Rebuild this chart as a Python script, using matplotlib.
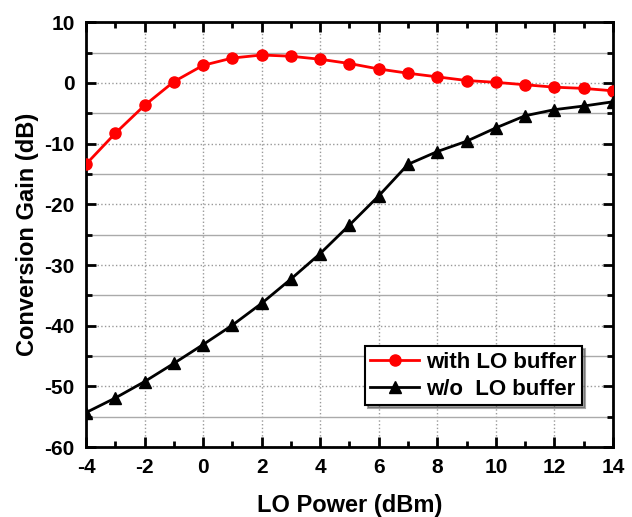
import numpy as np
import matplotlib
matplotlib.use('Agg')
from matplotlib import pyplot as plt
from matplotlib.ticker import MultipleLocator

# LO power sweep (dBm) and conversion gain (dB)
lo_power = [-4, -3, -2, -1, 0, 1, 2, 3, 4, 5, 6, 7, 8, 9, 10, 11, 12, 13, 14]
gain_buffer = [-13.4, -8.3, -3.7, 0.2, 2.9, 4.1, 4.6, 4.4, 3.9, 3.2, 2.3,
               1.6, 1.0, 0.4, 0.1, -0.3, -0.7, -0.9, -1.3]
gain_no_buffer = [-54.3, -51.9, -49.2, -46.2, -43.1, -39.9, -36.3, -32.3,
                  -28.1, -23.4, -18.6, -13.4, -11.3, -9.6, -7.4, -5.4,
                  -4.4, -3.8, -3.1]

plt.rcParams['font.family'] = ['Liberation Sans', 'DejaVu Sans']
plt.rcParams['font.weight'] = 'bold'
plt.rcParams['axes.unicode_minus'] = False

fig = plt.figure(figsize=(6.32, 5.17), dpi=100)
ax = fig.add_axes([0.136, 0.135, 0.834, 0.822])

ax.plot(lo_power, gain_buffer, color='red', lw=2, marker='o', ms=8,
        label='with LO buffer', zorder=3)
ax.plot(lo_power, gain_no_buffer, color='black', lw=2, marker='^', ms=8,
        label='w/o  LO buffer', zorder=3)

ax.set_xlim(-4, 14)
ax.set_ylim(-60, 10)
ax.xaxis.set_major_locator(MultipleLocator(2))
ax.xaxis.set_minor_locator(MultipleLocator(1))
ax.yaxis.set_major_locator(MultipleLocator(10))
ax.yaxis.set_minor_locator(MultipleLocator(5))

# dotted grid at major ticks, solid grey at the 5 dB minors
ax.grid(which='major', color='#999999', ls=':', lw=1)
ax.grid(which='minor', axis='y', color='#aaaaaa', ls='-', lw=1)

ax.tick_params(which='both', direction='in', top=True, right=True, width=2)
ax.tick_params(which='major', length=7, labelsize=15, pad=8)
ax.tick_params(which='minor', length=4)
for s in ax.spines.values():
    s.set_linewidth(2)

ax.set_xlabel('LO Power (dBm)', fontsize=17, fontweight='bold', labelpad=12)
ax.set_ylabel('Conversion Gain (dB)', fontsize=17, fontweight='bold', labelpad=4)

leg = ax.legend(loc='lower right', bbox_to_anchor=(0.941, 0.099), fontsize=16,
                frameon=True, fancybox=False, shadow=True, edgecolor='black',
                framealpha=1, handlelength=2.2, borderpad=0.25,
                labelspacing=0.25, handletextpad=0.3, borderaxespad=0)
leg.get_frame().set_linewidth(1.5)

fig.savefig('out.png', dpi=100)
